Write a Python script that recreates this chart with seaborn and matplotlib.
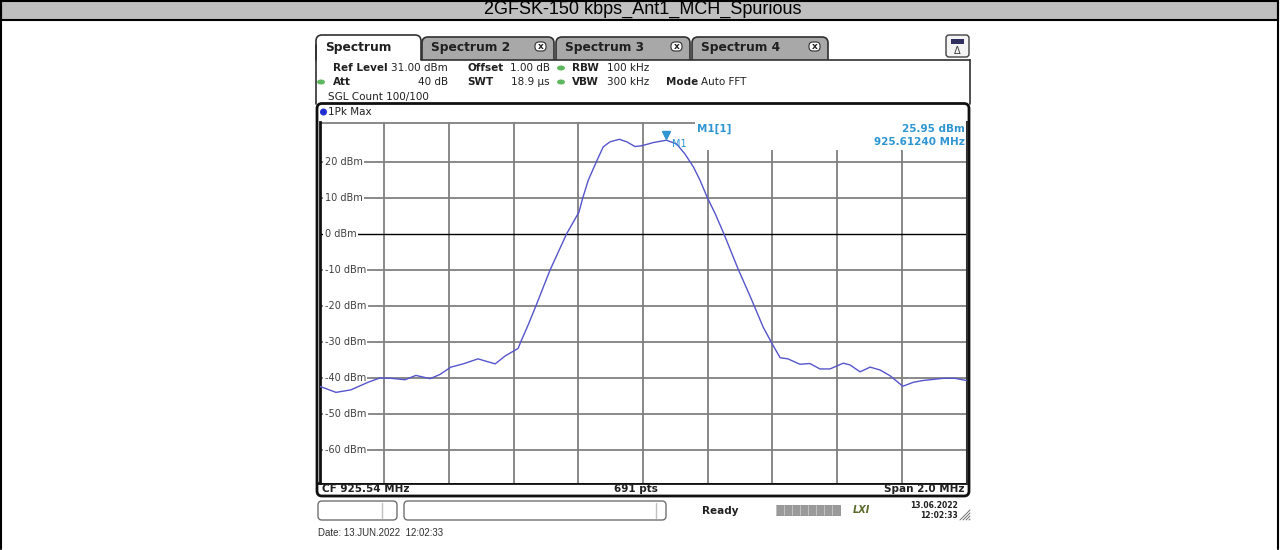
import numpy as np
import pandas as pd
import matplotlib
matplotlib.use('Agg')
import matplotlib.pyplot as plt
import matplotlib.patches as mpatches
import matplotlib.transforms as mtrans
import seaborn as sns

# trace (MHz, dBm)
freq_mhz = [924.540, 924.591, 924.637, 924.690, 924.727, 924.761, 924.804, 924.838,
            924.882, 924.913, 924.946, 924.984, 925.030, 925.083, 925.114, 925.154,
            925.162, 925.185, 925.209, 925.253, 925.304, 925.342, 925.354, 925.371,
            925.397, 925.417, 925.438, 925.467, 925.490, 925.515, 925.536, 925.572,
            925.6124, 925.644, 925.670, 925.696, 925.716, 925.739, 925.763, 925.790,
            925.835, 925.871, 925.912, 925.941, 925.964, 925.988, 926.025, 926.056,
            926.087, 926.118, 926.159, 926.180, 926.211, 926.242, 926.273, 926.304,
            926.343, 926.376, 926.406, 926.468, 926.504, 926.540]
level_dbm = [-42.3, -44.0, -43.3, -41.2, -40.0, -40.1, -40.5, -39.3,
             -40.2, -39.0, -37.0, -36.1, -34.7, -36.1, -33.9, -31.8,
             -30.0, -25.3, -20.0, -10.0, 0.0, 6.0, 10.0, 14.9,
             20.2, 24.1, 25.5, 26.2, 25.5, 24.2, 24.4, 25.3,
             25.95, 24.9, 22.1, 18.5, 14.9, 10.0, 5.6, 0.0,
             -10.0, -17.3, -26.0, -30.8, -34.4, -34.7, -36.2, -36.0,
             -37.5, -37.5, -35.9, -36.4, -38.3, -37.0, -37.8, -39.4,
             -42.3, -41.2, -40.7, -40.1, -40.1, -40.7]

center_mhz = 925.54
span_mhz = 2.0
ref_level = 31.0
y_bottom = -69.0
y_ticks = [20, 10, 0, -10, -20, -30, -40, -50, -60]
marker_freq = 925.6124
marker_level = 25.95

title = "2GFSK-150 kbps_Ant1_MCH_Spurious"
tab_names = ["Spectrum", "Spectrum 2", "Spectrum 3", "Spectrum 4"]

df = pd.DataFrame({"freq": freq_mhz, "level": level_dbm})

sns.set_style("white")
plt.rcParams["font.family"] = ["DejaVu Sans"]

W, H = 1280, 550
fig = plt.figure(figsize=(W / 100, H / 100), dpi=100)

# background canvas in pixel coordinates
bg = fig.add_axes([0, 0, 1, 1])
bg.set_xlim(0, W)
bg.set_ylim(H, 0)
bg.axis("off")

# outer table / title row
bg.add_patch(mpatches.Rectangle((1, 1), W - 3, 18.5, facecolor="#c0c0c0", edgecolor="black", lw=1.5))
bg.plot([1, 1], [1, H - 1], color="black", lw=1.5)
bg.plot([W - 2, W - 2], [1, H - 1], color="black", lw=1.5)
bg.text(W / 2 + 3, 9.0, title, ha="center", va="center", fontsize=13,
        family=["Liberation Sans", "DejaVu Sans"], color="black", zorder=3)

# tabs
tab_x = [(316, 421), (422, 554), (556, 690), (692, 828)]
text_col = "#202020"
for i, ((x0, x1), name) in enumerate(zip(tab_x, tab_names)):
    top = 35 if i == 0 else 37
    fc = "white" if i == 0 else "#a8a8a8"
    tab = mpatches.FancyBboxPatch((x0, top), x1 - x0, 30, boxstyle="round,pad=0,rounding_size=6",
                                  facecolor=fc, edgecolor="#303030", lw=1.2)
    bg.add_patch(tab)
    bg.text(x0 + 9, 47, name, ha="left", va="center", fontsize=8.8, weight="bold", color=text_col)
    if i > 0:
        bg.add_patch(mpatches.FancyBboxPatch((x1 - 19, 42), 11, 9, boxstyle="round,pad=0,rounding_size=4",
                                             facecolor="white", edgecolor="#303030", lw=0.8))
        bg.text(x1 - 13.5, 46.5, "x", ha="center", va="center", fontsize=6.5, weight="bold", color=text_col)
# header panel below tabs
bg.add_patch(mpatches.Rectangle((316, 60), 654, 44, facecolor="white", edgecolor="none", zorder=2))
bg.plot([421, 970], [60, 60], color="#303030", lw=1.2, zorder=3)
bg.plot([316, 316], [45, 104], color="#303030", lw=1.2, zorder=3)
bg.plot([970, 970], [60, 104], color="#303030", lw=1.2, zorder=3)

# icon at the right of the tab bar
bg.add_patch(mpatches.FancyBboxPatch((946, 35), 23, 22, boxstyle="round,pad=0,rounding_size=3",
                                     facecolor="#f4f4f4", edgecolor="#404040", lw=1))
bg.add_patch(mpatches.Rectangle((951, 39), 13, 5, facecolor="#303060", edgecolor="none"))
bg.text(957.5, 51, "\u0394", ha="center", va="center", fontsize=7, color="#404040")

hdr = dict(fontsize=7.5, va="center", color=text_col, zorder=4)
green = "#5fb85f"
bg.text(333, 68, "Ref Level", weight="bold", **hdr)
bg.text(448, 68, "31.00 dBm", ha="right", **hdr)
bg.text(467, 68, "Offset", weight="bold", **hdr)
bg.text(550, 68, "1.00 dB", ha="right", **hdr)
bg.text(572, 68, "RBW", weight="bold", **hdr)
bg.text(607, 68, "100 kHz", **hdr)
bg.text(333, 82, "Att", weight="bold", **hdr)
bg.text(448, 82, "40 dB", ha="right", **hdr)
bg.text(467, 82, "SWT", weight="bold", **hdr)
bg.text(550, 82, "18.9 \u00b5s", ha="right", **hdr)
bg.text(572, 82, "VBW", weight="bold", **hdr)
bg.text(607, 82, "300 kHz", **hdr)
bg.text(666, 82, "Mode", weight="bold", **hdr)
bg.text(701, 82, "Auto FFT", **hdr)
bg.text(328, 97, "SGL Count 100/100", **hdr)
for gx, gy in [(561, 68), (561, 82), (321, 82)]:
    bg.add_patch(mpatches.Ellipse((gx, gy), 8, 5, facecolor=green, edgecolor="none", zorder=4))

# diagram frame
bg.add_patch(mpatches.FancyBboxPatch((317, 103.5), 652, 392.5, boxstyle="round,pad=0,rounding_size=5",
                                     facecolor="white", edgecolor="#101010", lw=2, zorder=2))
bg.add_patch(mpatches.Circle((323.5, 112), 3.5, facecolor="#1f2fd0", edgecolor="none", zorder=4))
bg.text(328, 112, "1Pk Max", **hdr)
bg.plot([318, 968], [482.5, 482.5], color="#101010", lw=2, zorder=4)
bg.text(322, 489, "CF 925.54 MHz", weight="bold", ha="left", **hdr)
bg.text(636, 489, "691 pts", weight="bold", ha="center", **hdr)
bg.text(965, 489, "Span 2.0 MHz", weight="bold", ha="right", **hdr)

# status bar
for x0, x1, div in [(318, 397, 382), (404, 666, 656)]:
    bg.add_patch(mpatches.FancyBboxPatch((x0, 501), x1 - x0, 19, boxstyle="round,pad=0,rounding_size=4",
                                         facecolor="white", edgecolor="#707070", lw=1))
    bg.plot([div, div], [503, 518], color="#c0c0c0", lw=1)
bg.text(720, 510.5, "Ready", ha="center", va="center", fontsize=7.5, weight="bold", color=text_col)
bg.add_patch(mpatches.Rectangle((776, 505), 64, 10, facecolor="#9a9a9a", edgecolor="#808080", lw=0.5))
for sx in np.arange(776, 840, 8):
    bg.plot([sx, sx], [505, 515], color="#c8c8c8", lw=0.6)
bg.text(861, 510, "LXI", ha="center", va="center", fontsize=7, weight="bold", style="italic", color="#5a6a2a")
bg.text(958, 505, "13.06.2022", ha="right", va="center", fontsize=5.5, weight="bold", color=text_col)
bg.text(958, 515, "12:02:33", ha="right", va="center", fontsize=5.5, weight="bold", color=text_col)
for k in range(4):
    bg.plot([960 + 3 * k, 970], [520, 510 + 3 * k], color="#707070", lw=0.7)

bg.text(318, 533, "Date: 13.JUN.2022  12:02:33", ha="left", va="center", fontsize=7,
        family=["Liberation Sans", "DejaVu Sans"], color="#303030")

# spectrum diagram
x_lo, x_hi = center_mhz - span_mhz / 2, center_mhz + span_mhz / 2
ax = fig.add_axes([319.5 / W, (H - 482.5) / H, 647 / W, 360.5 / H])
ax.set_facecolor("white")
ax.set_zorder(5)
ax.set_xlim(x_lo, x_hi)
ax.set_ylim(y_bottom, ref_level)
ax.set_xticks([])
ax.set_yticks([])
for s in ax.spines.values():
    s.set_visible(False)
ax.spines["left"].set_visible(True)
ax.spines["left"].set_color("#101010")
ax.spines["left"].set_linewidth(2)
ax.spines["right"].set_visible(True)
ax.spines["right"].set_color("#303030")
ax.spines["right"].set_linewidth(1.5)

grid_col = "#808080"
for k in range(1, 10):
    ax.axvline(x_lo + k * span_mhz / 10, color=grid_col, lw=1.3, zorder=1)
for v in y_ticks:
    if v == 0:
        ax.axhline(v, color="black", lw=1.0, zorder=1)
    else:
        ax.axhline(v, color=grid_col, lw=1.3, zorder=1)
# top reference line, interrupted by the marker field
ax.axhline(ref_level - 0.3, xmin=0, xmax=0.58, color=grid_col, lw=1.3, zorder=1)
ax.add_patch(mpatches.Rectangle((0.58, 0.922), 0.42, 0.08, transform=ax.transAxes,
                                facecolor="white", edgecolor="none", zorder=2))

lbl_tr = mtrans.blended_transform_factory(ax.transAxes, ax.transData)
for v in y_ticks:
    ax.text(0.008, v, f"{v} dBm", transform=lbl_tr, ha="left", va="center", fontsize=7,
            color="#404040", zorder=3,
            bbox=dict(boxstyle="square,pad=0.15", facecolor="white", edgecolor="none"))

sns.lineplot(data=df, x="freq", y="level", ax=ax, color="#5555cc", linewidth=1.0,
             estimator=None, sort=False, zorder=4)
ax.set_xlabel("")
ax.set_ylabel("")

mk_col = "#2f96d2"
mk_tr = mtrans.offset_copy(ax.transData, fig=fig, x=0, y=4, units="points")
ax.plot([marker_freq], [marker_level], marker="v", markersize=5.5, color=mk_col,
        transform=mk_tr, zorder=5)
ax.annotate("M1", (marker_freq, marker_level), xytext=(4, -3), textcoords="offset points",
            fontsize=7, color=mk_col, va="center", ha="left", zorder=5)
ax.text(0.584, 0.98, "M1[1]", transform=ax.transAxes, fontsize=7.5, weight="bold",
        color=mk_col, va="center", ha="left", zorder=5)
ax.text(0.998, 0.98, f"{marker_level:.2f} dBm", transform=ax.transAxes, fontsize=7.5,
        weight="bold", color=mk_col, va="center", ha="right", zorder=5)
ax.text(0.998, 0.944, f"{marker_freq:.5f} MHz", transform=ax.transAxes, fontsize=7.5,
        weight="bold", color=mk_col, va="center", ha="right", zorder=5)

fig.savefig("out.png", dpi=100)
